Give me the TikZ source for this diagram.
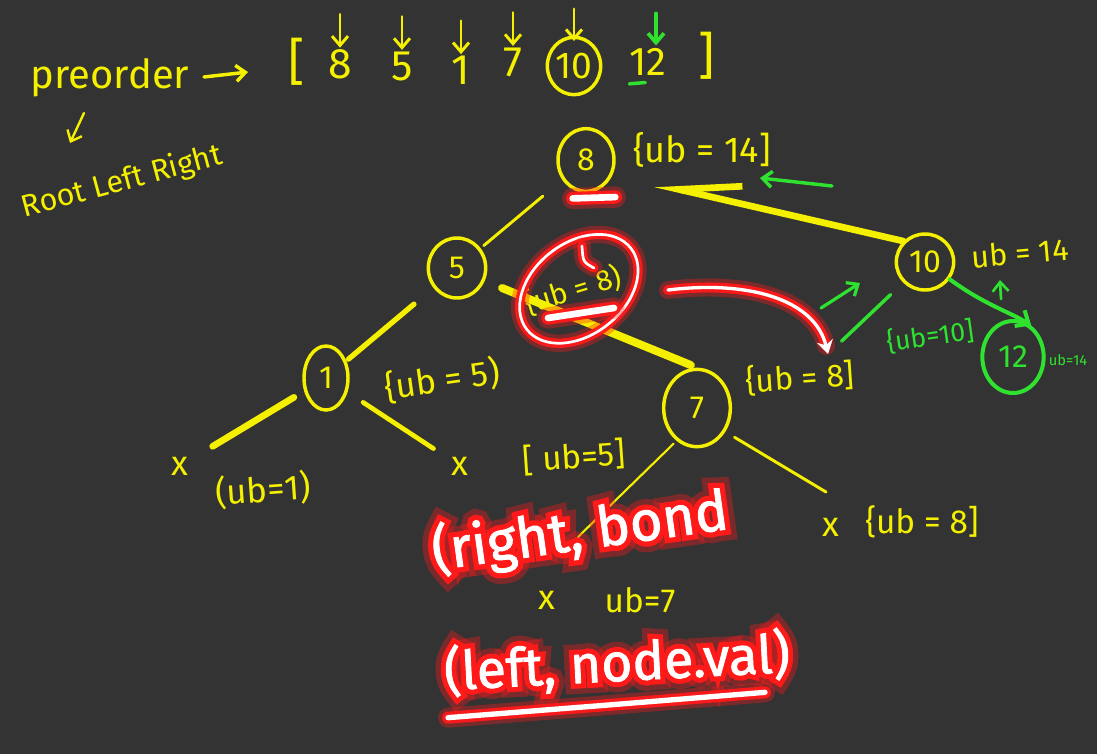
\documentclass[tikz,border=0pt]{standalone}
\usepackage{fontspec}
\setmainfont{Fira Sans}
\newfontfamily\glowW[FakeBold=1.5]{Fira Sans}
\newfontfamily\glowR[FakeBold=20]{Fira Sans}
\newfontfamily\glowRR[FakeBold=40]{Fira Sans}
\usetikzlibrary{arrows.meta,calc,shapes.geometric}
\definecolor{bg}{HTML}{333333}
\definecolor{yel}{HTML}{F4F000}
\definecolor{grn}{HTML}{2FE22F}
\definecolor{gred}{HTML}{FF1A1A}
\newcommand\fsz[1]{\fontsize{#1}{#1}\selectfont}
\newcommand\glowtext[5]{%
  \node[text=gred, opacity=0.35, rotate=#3, font=\glowRR\fsz{#4}, inner sep=0pt] at (#2) {#5};
  \node[text=gred, rotate=#3, font=\glowR\fsz{#4}, inner sep=0pt] at (#2) {#5};
  \node[text=white, rotate=#3, font=\glowW\fsz{#4}, inner sep=0pt] (#1) at (#2) {#5};
}
\begin{document}
\begin{tikzpicture}[x=0.75pt,y=-0.75pt,
  yt/.style={text=yel, inner sep=0pt},
  gt/.style={text=grn, inner sep=0pt},
  yl/.style={draw=yel, line cap=round, line width=#1}, yl/.default=2.2pt,
  gl/.style={draw=grn, line cap=round, line width=#1}, gl/.default=2.2pt,
  ycirc/.style={ellipse, draw=yel, line width=2.6pt, text=yel, inner sep=0pt, font=\fsz{24}},
  glowline/.style={draw=white, line width=#1, line cap=round,
    preaction={draw=gred, line width=#1+11pt, opacity=0.35, line cap=round},
    preaction={draw=gred, line width=#1+5pt, opacity=0.95, line cap=round}},
  glowline/.default=2pt,
  barb/.style={-{Straight Barb[length=7pt,width=12pt]}},
]
\useasboundingbox (0,0) rectangle (1097,754);
\fill[bg] (0,0) rectangle (1097,754);

% ---------- header ----------
\node[yt, font=\fsz{30}] (pre) at (110,78) {preorder};
\coordinate (arA) at (204,77); \coordinate (arB) at (248,72);
\draw[yl=2.6pt, barb] (arA) -- (arB);
\node[yt, font=\fsz{38}] (lb) at (297,62) {[};
\node[yt, font=\fsz{32}] (l8) at (340,64) {8};
\node[yt, font=\fsz{32}] (l5) at (402,66) {5};
\node[yt, font=\fsz{32}] (l1) at (461,70) {1};
\node[yt, font=\fsz{32}] (l7) at (513,62) {7};
\node[ycirc, font=\fsz{28}, minimum width=40pt, minimum height=43pt] (l10) at (574,66) {10};
\node[yt, font=\fsz{30}] (l12) at (648,62) {12};
\node[yt, font=\fsz{38}] (rb) at (707,56) {]};
\foreach \n in {l8,l5,l1,l7} \draw[yl=2.2pt, barb] ([yshift=26pt]\n.north) -- ([yshift=1pt]\n.north);
\draw[yl=2.2pt, barb] ([yshift=20pt]l10.north) -- ([yshift=-4pt]l10.north);
\draw[gl=2.8pt, barb] ([xshift=6pt,yshift=26pt]l12.north) -- ([xshift=6pt,yshift=2pt]l12.north);
\draw[gl=2.6pt] ([xshift=-14pt,yshift=-6pt]l12.south) -- ([xshift=-2pt,yshift=-5pt]l12.south);

\coordinate (ra1) at (84,113); \coordinate (ra2) at (70,143);
\draw[yl=1.8pt, barb] (ra1) -- (ra2);
\node[yt, font=\fsz{23}, rotate=15] (rlr) at (122,182) {Root Left Right};

% ---------- tree nodes ----------
\node[ycirc, minimum width=42pt, minimum height=47pt] (N8) at (586,160) {8};
\node[ycirc, minimum width=43pt, minimum height=45pt] (N5) at (457,268) {5};
\node[ycirc, minimum width=33pt, minimum height=48pt] (N1) at (326,378) {1};
\node[ycirc, minimum width=50pt, minimum height=58pt] (N7) at (697,408) {7};
\node[ycirc, minimum width=43pt, minimum height=42pt] (N10) at (925,262) {10};
\node[ycirc, draw=grn, text=grn, line width=3pt, minimum width=46pt, minimum height=54pt] (N12) at (1013,357) {12};

% ---------- labels ----------
\node[yt, font=\fsz{27}] (ub14a) at (702,150) {\{ub = 14]};
\node[yt, font=\fsz{24}, rotate=4] (ub8b) at (800,378) {\{ub = 8]};
\node[yt, font=\fsz{23}, rotate=5] (ub14b) at (1020,253) {ub = 14};
\node[gt, font=\fsz{11}] (ub14c) at (1068,360) {ub=14};
\node[gt, font=\fsz{20}, rotate=8] (ub10) at (930,336) {\{ub=10]};
\node[yt, font=\fsz{26}, rotate=8] (ub5a) at (442,380) {\{ub = 5)};
\node[yt, font=\fsz{26}] (xL) at (180,466) {x};
\node[yt, font=\fsz{26}, rotate=4] (ub1) at (263,490) {(ub=1)};
\node[yt, font=\fsz{26}] (xR1) at (460,466) {x};
\node[yt, font=\fsz{25}, rotate=4] (ub5b) at (574,457) {[ ub=5]};
\node[yt, font=\fsz{26}] (x7) at (547,600) {x};
\node[yt, font=\fsz{25}] (ub7) at (640,600) {ub=7};
\node[yt, font=\fsz{26}] (xR7) at (831,527) {x};
\node[yt, font=\fsz{25}] (ub8c) at (922,522) {\{ub = 8]};

% ---------- tree edges ----------
\draw[yl=2.2pt, shorten <=19pt, shorten >=3pt] (N8) -- (N5);
\draw[yl=4pt, shorten <=19pt, shorten >=2pt] (N5) -- (N1);
\draw[yl=6pt, shorten <=14pt, shorten >=5pt] (N5.-25) -- (N7.north);
\draw[yl=5pt, -{Straight Barb[harpoon,swap,length=46pt,width=26pt]}] (N10.136) -- ([shift={(52pt,-18pt)}]N8.center);
\draw[yl=5pt, shorten <=9pt, shorten >=21pt] (N1) -- (xL);
\draw[yl=3.5pt, shorten <=14pt, shorten >=16pt] (N1) -- (xR1);
\coordinate (c7l) at (578,537);
\draw[yl=1.6pt, shorten <=3pt] (N7.238) -- (c7l);
\coordinate (c7r) at (826,492);
\draw[yl=2.2pt, shorten <=8pt] (N7.-40) -- (c7r);

% ---------- green ----------
\coordinate (gA1) at (832,186); \coordinate (gA2) at (760,178);
\draw[gl=2.6pt, barb] (gA1) -- (gA2);
\coordinate (rp) at (828,354);
\draw[gl=2.6pt, shorten <=13pt, shorten >=14pt] (N10) -- (rp);
\coordinate (ga1) at (821,308); \coordinate (ga2) at (860,283);
\draw[gl=2.4pt, barb] (ga1) -- (ga2);
\draw[gl=3pt, -{Straight Barb[length=8pt,width=14pt]}] (N10.-35) .. controls (985,305) and (1010,312) .. (N12.60);
\coordinate (gc1) at (1001,299); \coordinate (gc2) at (1000,280);
\draw[gl=2pt, barb] (gc1) -- (gc2);

% ---------- red glow marks ----------
\draw[glowline=5pt] ([shift={(-10pt,-4pt)}]N8.south) -- ([shift={(22pt,-3pt)}]N8.south);
\node[yt, font=\fsz{22}, rotate=17] (ub8a) at (573,290) {\{ub = 8)};
\draw[glowline=2pt, rotate around={38:(ub8a.center)}] ([shift={(4pt,-2pt)}]ub8a.center) ellipse [x radius=66, y radius=46];
\draw[glowline=2pt] ([shift={(6.75pt,33pt)}]ub8a.center) .. controls ([shift={(7.5pt,21pt)}]ub8a.center) .. ([shift={(15.75pt,16.5pt)}]ub8a.center);
\draw[glowline=5pt] ([shift={(-18.75pt,-21pt)}]ub8a.center) -- ([shift={(30.75pt,-13.5pt)}]ub8a.center);
\coordinate (rc1) at (668,290);
\draw[glowline=2.5pt, -{Stealth[length=10pt,width=12pt]}] (rc1) .. controls (750,280) and (815,300) .. (rp);

\glowtext{rb1}{580,532}{8}{42}{(right, bond}
\glowtext{lnv}{617,663}{3}{40}{(left, node.val)}
\draw[glowline=4pt] ([shift={(-126.75pt,-41pt)}]lnv.center) -- ([shift={(-12.75pt,-32pt)}]lnv.center) -- ([shift={(111pt,-22pt)}]lnv.center);
\end{tikzpicture}
\end{document}
